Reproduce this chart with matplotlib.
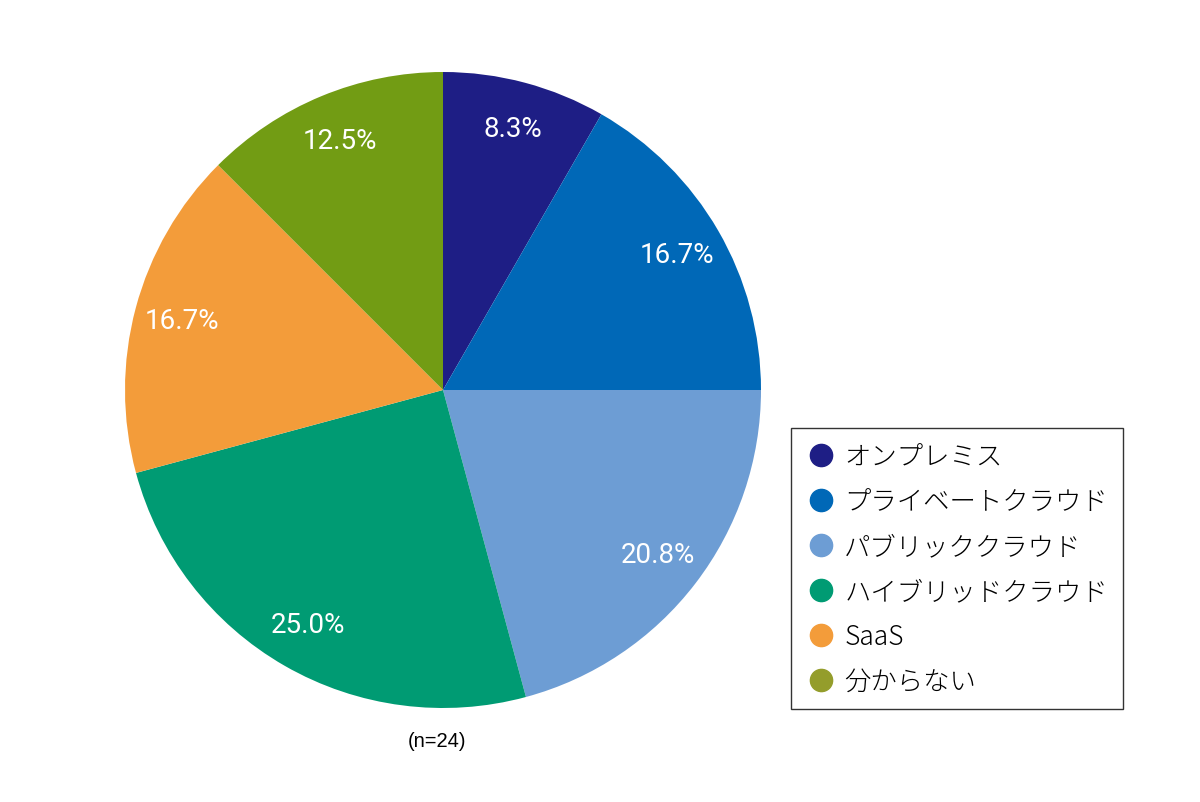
import matplotlib
matplotlib.use("Agg")
import matplotlib.pyplot as plt
from matplotlib.lines import Line2D

plt.rcParams['font.family'] = ['Noto Sans CJK JP', 'DejaVu Sans']

categories = ["オンプレミス", "プライベートクラウド", "パブリッククラウド",
              "ハイブリッドクラウド", "SaaS", "分からない"]
values = [8.3, 16.7, 20.8, 25.0, 16.7, 12.5]
colors = ["#1e1e85", "#0068b7", "#6d9dd4", "#009b73", "#f39c3a", "#729c14"]
legend_colors = ["#1e1e85", "#0068b7", "#6d9dd4", "#009b73", "#f39c3a", "#949d2b"]
note = "(n=24)"

W, H = 1200, 803
fig = plt.figure(figsize=(W / 100, H / 100), dpi=100)
cx, cy, r = 443, 391, 318
ax = fig.add_axes([(cx - r) / W, (H - cy - r) / H, 2 * r / W, 2 * r / H])
wedges, texts, autotexts = ax.pie(values, colors=colors, startangle=90, counterclock=False,
                                  autopct='%.1f%%', pctdistance=0.85, radius=1,
                                  wedgeprops=dict(linewidth=0),
                                  textprops=dict(color='white', fontsize=20,
                                                 family=['Roboto', 'Liberation Sans'],
                                                 fontweight='normal'))
ax.set_xlim(-1, 1)
ax.set_ylim(-1, 1)
ax.set_aspect('equal')
ax.axis('off')

fig.text(437 / W, 1 - 742 / H, note, ha='center', va='center', fontsize=14.5,
         color='black', family=['Liberation Sans'])

handles = [Line2D([], [], marker='o', linestyle='none', markersize=16,
                  markerfacecolor=c, markeredgecolor=c) for c in legend_colors]
leg = fig.legend(handles, categories, loc='upper left',
                 bbox_to_anchor=(791 / W, 1 - 429 / H), bbox_transform=fig.transFigure,
                 frameon=True, fancybox=False, edgecolor='black', fontsize=19,
                 handletextpad=0.27, labelspacing=0.64, borderpad=0.55,
                 handlelength=1.2, borderaxespad=0)
leg.get_frame().set_linewidth(1.0)
for t in leg.get_texts():
    t.set_fontweight('light')

fig.savefig("out.png", dpi=100)
